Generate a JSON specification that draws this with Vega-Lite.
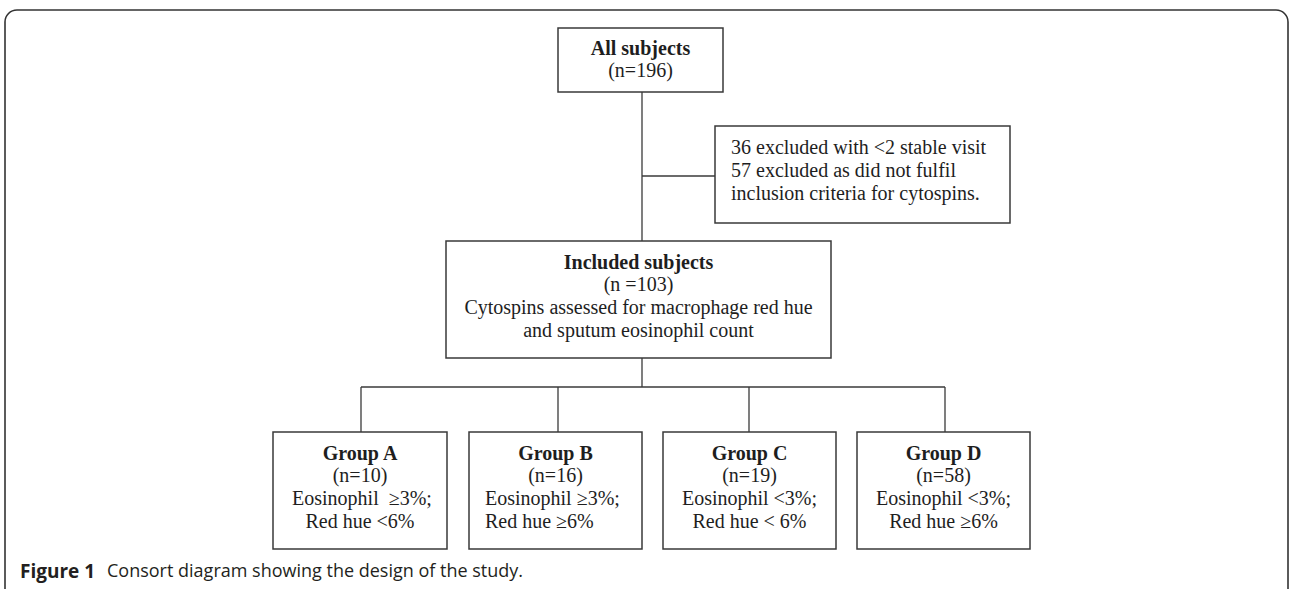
{
  "$schema": "https://vega.github.io/schema/vega-lite/v6.json",
  "width": 1290,
  "height": 589,
  "padding": 0,
  "autosize": {"type": "fit", "contains": "padding"},
  "background": "white",
  "config": {"view": {"stroke": null}},
  "datasets": {
    "frame": [{"x": 5, "x2": 1288, "y": 10, "y2": 640}],
    "boxes": [
      {"box": "All subjects", "x": 558, "x2": 723, "y": 28, "y2": 92},
      {"box": "Excluded", "x": 715, "x2": 1010, "y": 126, "y2": 223},
      {"box": "Included subjects", "x": 446, "x2": 831, "y": 241, "y2": 358},
      {"box": "Group A", "x": 273, "x2": 447, "y": 432, "y2": 549},
      {"box": "Group B", "x": 469, "x2": 642, "y": 432, "y2": 549},
      {"box": "Group C", "x": 663, "x2": 836, "y": 432, "y2": 549},
      {"box": "Group D", "x": 857, "x2": 1030, "y": 432, "y2": 549}
    ],
    "links": [
      {"x": 642, "x2": 642, "y": 92, "y2": 241},
      {"x": 642, "x2": 715, "y": 176, "y2": 176},
      {"x": 642, "x2": 642, "y": 358, "y2": 387},
      {"x": 361, "x2": 945, "y": 387, "y2": 387},
      {"x": 361, "x2": 361, "y": 387, "y2": 432},
      {"x": 558, "x2": 558, "y": 387, "y2": 432},
      {"x": 749, "x2": 749, "y": 387, "y2": 432},
      {"x": 945, "x2": 945, "y": 387, "y2": 432}
    ],
    "lines": [
      {"kind": "title", "line": "All subjects", "x": 640.5, "y": 49},
      {"kind": "centre", "line": "(n=196)", "x": 640.5, "y": 71},
      {"kind": "left", "line": "36 excluded with <2 stable visit", "x": 731, "y": 148},
      {"kind": "left", "line": "57 excluded as did not fulfil", "x": 731, "y": 171},
      {"kind": "left", "line": "inclusion criteria for cytospins.", "x": 731, "y": 194},
      {"kind": "title", "line": "Included subjects", "x": 638.5, "y": 263},
      {"kind": "centre", "line": "(n =103)", "x": 638.5, "y": 285},
      {"kind": "centre", "line": "Cytospins assessed for macrophage red hue", "x": 638.5, "y": 308},
      {"kind": "centre", "line": "and sputum eosinophil count", "x": 638.5, "y": 331},
      {"kind": "title", "line": "Group A", "x": 360, "y": 454},
      {"kind": "centre", "line": "(n=10)", "x": 360, "y": 476},
      {"kind": "centre", "line": "Eosinophil\u00a0 ≥3%;", "x": 362, "y": 499},
      {"kind": "centre", "line": "Red hue <6%", "x": 360, "y": 522},
      {"kind": "title", "line": "Group B", "x": 555.5, "y": 454},
      {"kind": "centre", "line": "(n=16)", "x": 555.5, "y": 476},
      {"kind": "left", "line": "Eosinophil ≥3%;", "x": 485, "y": 499},
      {"kind": "left", "line": "Red hue ≥6%", "x": 485, "y": 522},
      {"kind": "title", "line": "Group C", "x": 749.5, "y": 454},
      {"kind": "centre", "line": "(n=19)", "x": 749.5, "y": 476},
      {"kind": "centre", "line": "Eosinophil <3%;", "x": 749.5, "y": 499},
      {"kind": "centre", "line": "Red hue < 6%", "x": 749.5, "y": 522},
      {"kind": "title", "line": "Group D", "x": 943.5, "y": 454},
      {"kind": "centre", "line": "(n=58)", "x": 943.5, "y": 476},
      {"kind": "centre", "line": "Eosinophil <3%;", "x": 943.5, "y": 499},
      {"kind": "centre", "line": "Red hue ≥6%", "x": 943.5, "y": 522}
    ],
    "caption": [
      {"kind": "label", "line": "Figure 1", "x": 20, "y": 572},
      {"kind": "text", "line": "Consort diagram showing the design of the study.", "x": 107, "y": 572}
    ]
  },
  "layer": [
    {
      "data": {"name": "frame"},
      "mark": {"type": "rect", "fill": null, "stroke": "#333333", "strokeWidth": 1.6, "cornerRadius": 12, "clip": true},
      "encoding": {
        "x": {"field": "x", "type": "quantitative", "scale": {"domain": [0, 1290], "nice": false, "zero": false}, "axis": null},
        "x2": {"field": "x2"},
        "y": {"field": "y", "type": "quantitative", "scale": {"domain": [0, 589], "nice": false, "zero": false, "reverse": true}, "axis": null},
        "y2": {"field": "y2"}
      }
    },
    {
      "data": {"name": "links"},
      "mark": {"type": "rule", "stroke": "#3a3a3a", "strokeWidth": 1.3},
      "encoding": {
        "x": {"field": "x", "type": "quantitative", "scale": {"domain": [0, 1290], "nice": false, "zero": false}, "axis": null},
        "x2": {"field": "x2"},
        "y": {"field": "y", "type": "quantitative", "scale": {"domain": [0, 589], "nice": false, "zero": false, "reverse": true}, "axis": null},
        "y2": {"field": "y2"}
      }
    },
    {
      "data": {"name": "boxes"},
      "mark": {"type": "rect", "fill": "white", "stroke": "#3a3a3a", "strokeWidth": 1.5},
      "encoding": {
        "x": {"field": "x", "type": "quantitative", "scale": {"domain": [0, 1290], "nice": false, "zero": false}, "axis": null},
        "x2": {"field": "x2"},
        "y": {"field": "y", "type": "quantitative", "scale": {"domain": [0, 589], "nice": false, "zero": false, "reverse": true}, "axis": null},
        "y2": {"field": "y2"}
      }
    },
    {
      "data": {"name": "lines"},
      "transform": [{"filter": "datum.kind === 'title'"}],
      "mark": {"type": "text", "font": "Liberation Serif", "fontSize": 20, "fontWeight": "bold", "align": "center", "baseline": "middle", "color": "#1e1e1e"},
      "encoding": {
        "x": {"field": "x", "type": "quantitative", "scale": {"domain": [0, 1290], "nice": false, "zero": false}, "axis": null},
        "y": {"field": "y", "type": "quantitative", "scale": {"domain": [0, 589], "nice": false, "zero": false, "reverse": true}, "axis": null},
        "text": {"field": "line"}
      }
    },
    {
      "data": {"name": "lines"},
      "transform": [{"filter": "datum.kind === 'centre'"}],
      "mark": {"type": "text", "font": "Liberation Serif", "fontSize": 20, "align": "center", "baseline": "middle", "color": "#1e1e1e"},
      "encoding": {
        "x": {"field": "x", "type": "quantitative", "scale": {"domain": [0, 1290], "nice": false, "zero": false}, "axis": null},
        "y": {"field": "y", "type": "quantitative", "scale": {"domain": [0, 589], "nice": false, "zero": false, "reverse": true}, "axis": null},
        "text": {"field": "line"}
      }
    },
    {
      "data": {"name": "lines"},
      "transform": [{"filter": "datum.kind === 'left'"}],
      "mark": {"type": "text", "font": "Liberation Serif", "fontSize": 20, "align": "left", "baseline": "middle", "color": "#1e1e1e"},
      "encoding": {
        "x": {"field": "x", "type": "quantitative", "scale": {"domain": [0, 1290], "nice": false, "zero": false}, "axis": null},
        "y": {"field": "y", "type": "quantitative", "scale": {"domain": [0, 589], "nice": false, "zero": false, "reverse": true}, "axis": null},
        "text": {"field": "line"}
      }
    },
    {
      "data": {"name": "caption"},
      "transform": [{"filter": "datum.kind === 'label'"}],
      "mark": {"type": "text", "font": "Open Sans", "fontSize": 19, "fontWeight": "bold", "align": "left", "baseline": "middle", "color": "#231f20"},
      "encoding": {
        "x": {"field": "x", "type": "quantitative", "scale": {"domain": [0, 1290], "nice": false, "zero": false}, "axis": null},
        "y": {"field": "y", "type": "quantitative", "scale": {"domain": [0, 589], "nice": false, "zero": false, "reverse": true}, "axis": null},
        "text": {"field": "line"}
      }
    },
    {
      "data": {"name": "caption"},
      "transform": [{"filter": "datum.kind === 'text'"}],
      "mark": {"type": "text", "font": "Open Sans", "fontSize": 18, "align": "left", "baseline": "middle", "color": "#231f20"},
      "encoding": {
        "x": {"field": "x", "type": "quantitative", "scale": {"domain": [0, 1290], "nice": false, "zero": false}, "axis": null},
        "y": {"field": "y", "type": "quantitative", "scale": {"domain": [0, 589], "nice": false, "zero": false, "reverse": true}, "axis": null},
        "text": {"field": "line"}
      }
    }
  ]
}
